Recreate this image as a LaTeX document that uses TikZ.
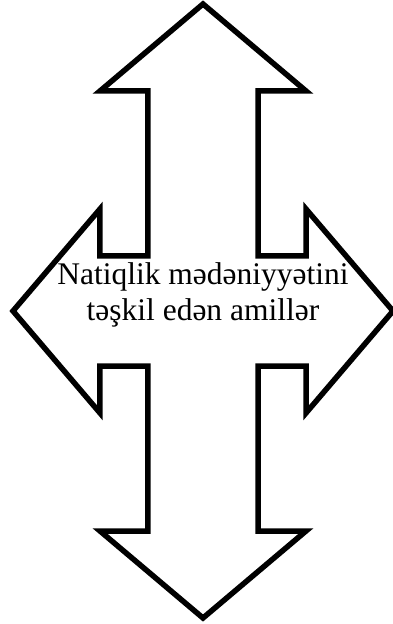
\documentclass[tikz,border=0pt]{standalone}
\usepackage{fontspec}
\setmainfont{Liberation Serif}
\usepackage{tikz}
\usetikzlibrary{positioning}

\begin{document}
\begin{tikzpicture}[
  x=1pt, y=1pt,
  outline/.style={draw, line width=5.5pt, line join=miter, miter limit=10, fill=white},
  lbl/.style={align=center, font=\fontsize{31.5}{36}\selectfont, inner sep=0pt},
]
  \useasboundingbox (-203,-313) rectangle (190,311);
  \path[outline] (0,307) -- (103,220) -- (55,220) -- (55,55) -- (103,55) -- (103,102)
    -- (190,0) -- (103,-102) -- (103,-55) -- (55,-55) -- (55,-220) -- (103,-220)
    -- (0,-307) -- (-103,-220) -- (-55,-220) -- (-55,-55) -- (-103,-55) -- (-103,-102)
    -- (-190,0) -- (-103,102) -- (-103,55) -- (-55,55) -- (-55,220) -- (-103,220) -- cycle;
  \node[lbl] (factors) at (0,16) {Natiqlik mədəniyyətini\\təşkil edən amillər};
\end{tikzpicture}
\end{document}
